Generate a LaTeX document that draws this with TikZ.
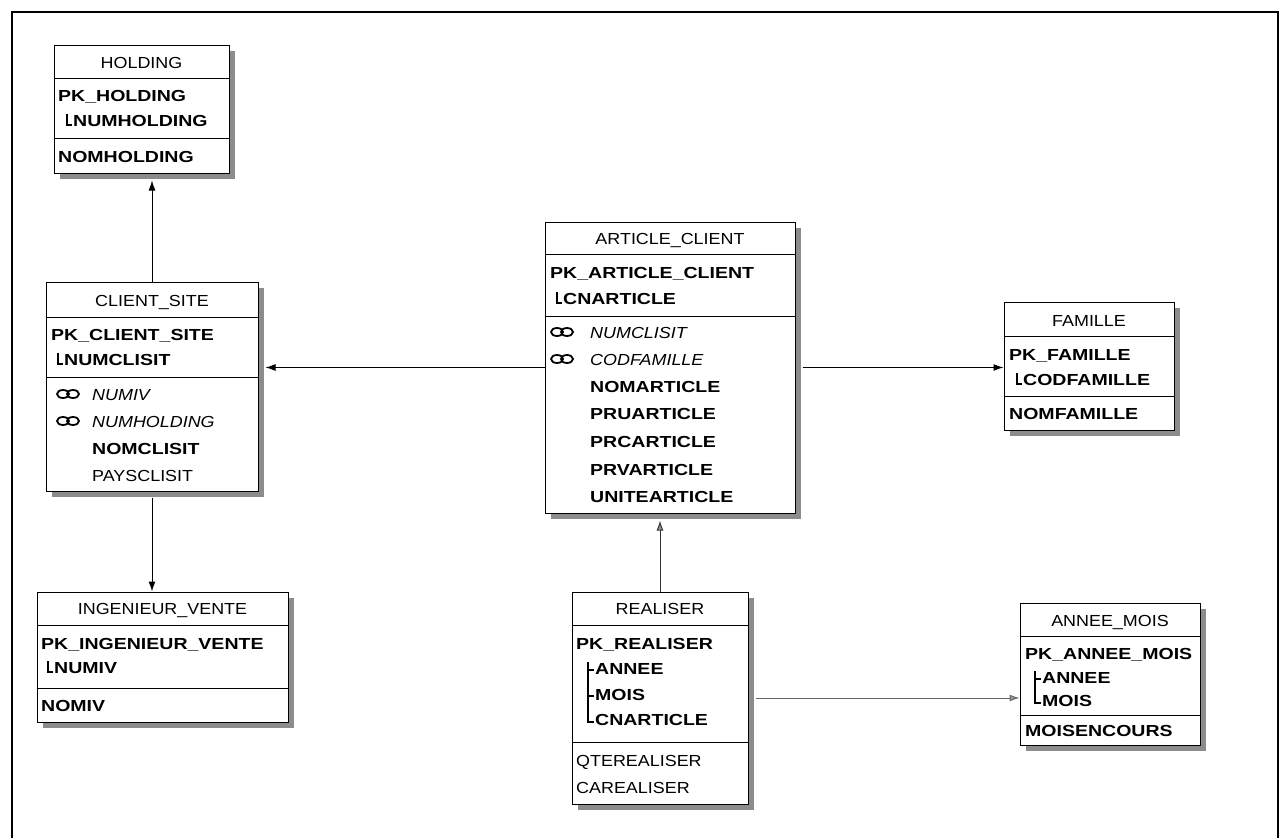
\documentclass[tikz,border=0pt]{standalone}
\usepackage{fontspec}
\setmainfont{Liberation Sans}[FakeStretch=1.12, BoldFeatures={FakeStretch=1.22}]
\usetikzlibrary{arrows.meta, shadows}

\tikzset{
  entity/.style={draw, line width=1pt, fill=white, inner sep=0pt,
    drop shadow={shadow xshift=6pt, shadow yshift=-6pt, fill=black!45, opacity=1}},
  sepline/.style={line width=1pt},
  title/.style={font=\fontsize{16}{19}\selectfont, inner sep=0pt, anchor=base},
  keyrow/.style={font=\fontsize{16}{19}\selectfont\bfseries, inner sep=0pt, anchor=base west},
  fkrow/.style={font=\fontsize{16}{19}\selectfont\itshape, inner sep=0pt, anchor=base west},
  plainrow/.style={font=\fontsize{16}{19}\selectfont, inner sep=0pt, anchor=base west},
  keytree/.style={line width=1.2pt},
  linkicon/.style={line width=1.8pt},
  fk/.style={line width=1pt, -{Latex[length=10pt, width=7pt]}},
  fklight/.style={line width=1pt, draw=black!60, -{Latex[length=10pt, width=7pt, fill=black!40]}},
  frame/.style={line width=1.5pt}
}

\begin{document}
\begin{tikzpicture}[x=1pt, y=-1pt]
\useasboundingbox (0,0) rectangle (1288,838);
\draw[frame] (12,838) -- (12,12) -- (1278,12) -- (1278,838);

% HOLDING
\node[entity, minimum width=175pt, minimum height=128pt] (holding) at (141.5,109) {};
\draw[sepline] (holding.west |- 0,78) -- (holding.east |- 0,78);
\draw[sepline] (holding.west |- 0,138) -- (holding.east |- 0,138);
\node[title] (holding-t) at (141.5,68) {HOLDING};
\node[keyrow] (holding-pk) at (58,101) {PK\_HOLDING};
\draw[keytree] (67,114) |- (72,125);
\node[keyrow] (holding-k1) at (73,126) {NUMHOLDING};
\node[keyrow] (holding-a1) at (58,162) {NOMHOLDING};

% CLIENT_SITE
\node[entity, minimum width=212pt, minimum height=209pt] (client) at (152,386.5) {};
\draw[sepline] (client.west |- 0,317) -- (client.east |- 0,317);
\draw[sepline] (client.west |- 0,377) -- (client.east |- 0,377);
\node[title] (client-t) at (152,306) {CLIENT\_SITE};
\node[keyrow] (client-pk) at (51,340) {PK\_CLIENT\_SITE};
\draw[keytree] (58,353) |- (63,364);
\node[keyrow] (client-k1) at (64,365) {NUMCLISIT};
\draw[linkicon] (63,394) ellipse (6 and 4) (73,394) ellipse (6 and 4);
\node[fkrow] (client-f1) at (92,400) {NUMIV};
\draw[linkicon] (63,421) ellipse (6 and 4) (73,421) ellipse (6 and 4);
\node[fkrow] (client-f2) at (92,427) {NUMHOLDING};
\node[keyrow] (client-a1) at (92,454) {NOMCLISIT};
\node[plainrow] (client-a2) at (92,481) {PAYSCLISIT};

% INGENIEUR_VENTE
\node[entity, minimum width=251pt, minimum height=130pt] (ingenieur) at (162.5,657) {};
\draw[sepline] (ingenieur.west |- 0,625) -- (ingenieur.east |- 0,625);
\draw[sepline] (ingenieur.west |- 0,688) -- (ingenieur.east |- 0,688);
\node[title] (ingenieur-t) at (162.5,614) {INGENIEUR\_VENTE};
\node[keyrow] (ingenieur-pk) at (41,649) {PK\_INGENIEUR\_VENTE};
\draw[keytree] (48,661) |- (53,672);
\node[keyrow] (ingenieur-k1) at (54,673) {NUMIV};
\node[keyrow] (ingenieur-a1) at (41,711) {NOMIV};

% ARTICLE_CLIENT
\node[entity, minimum width=250pt, minimum height=291pt] (article) at (670,367.5) {};
\draw[sepline] (article.west |- 0,254) -- (article.east |- 0,254);
\draw[sepline] (article.west |- 0,316) -- (article.east |- 0,316);
\node[title] (article-t) at (670,244) {ARTICLE\_CLIENT};
\node[keyrow] (article-pk) at (550,278) {PK\_ARTICLE\_CLIENT};
\draw[keytree] (557,292) |- (562,303);
\node[keyrow] (article-k1) at (563,304) {CNARTICLE};
\draw[linkicon] (557,332) ellipse (6 and 4) (567,332) ellipse (6 and 4);
\node[fkrow] (article-f1) at (590,338) {NUMCLISIT};
\draw[linkicon] (557,359) ellipse (6 and 4) (567,359) ellipse (6 and 4);
\node[fkrow] (article-f2) at (590,365) {CODFAMILLE};
\node[keyrow] (article-a1) at (590,392) {NOMARTICLE};
\node[keyrow] (article-a2) at (590,419) {PRUARTICLE};
\node[keyrow] (article-a3) at (590,447) {PRCARTICLE};
\node[keyrow] (article-a4) at (590,475) {PRVARTICLE};
\node[keyrow] (article-a5) at (590,502) {UNITEARTICLE};

% FAMILLE
\node[entity, minimum width=170pt, minimum height=128pt] (famille) at (1089,366) {};
\draw[sepline] (famille.west |- 0,336) -- (famille.east |- 0,336);
\draw[sepline] (famille.west |- 0,396) -- (famille.east |- 0,396);
\node[title] (famille-t) at (1089,326) {FAMILLE};
\node[keyrow] (famille-pk) at (1009,360) {PK\_FAMILLE};
\draw[keytree] (1017,373) |- (1022,384);
\node[keyrow] (famille-k1) at (1023,385) {CODFAMILLE};
\node[keyrow] (famille-a1) at (1009,419) {NOMFAMILLE};

% REALISER
\node[entity, minimum width=176pt, minimum height=212pt] (realiser) at (660,698) {};
\draw[sepline] (realiser.west |- 0,625) -- (realiser.east |- 0,625);
\draw[sepline] (realiser.west |- 0,742) -- (realiser.east |- 0,742);
\node[title] (realiser-t) at (660,614) {REALISER};
\node[keyrow] (realiser-pk) at (576,649) {PK\_REALISER};
\draw[keytree] (588,662) |- (594,722);
\draw[keytree] (588,670) -- (594,670);
\draw[keytree] (588,696) -- (594,696);
\node[keyrow] (realiser-k1) at (595,674) {ANNEE};
\node[keyrow] (realiser-k2) at (595,700) {MOIS};
\node[keyrow] (realiser-k3) at (595,725) {CNARTICLE};
\node[plainrow] (realiser-a1) at (576,766) {QTEREALISER};
\node[plainrow] (realiser-a2) at (576,793) {CAREALISER};

% ANNEE_MOIS
\node[entity, minimum width=180pt, minimum height=142pt] (annee) at (1110,674) {};
\draw[sepline] (annee.west |- 0,636) -- (annee.east |- 0,636);
\draw[sepline] (annee.west |- 0,715) -- (annee.east |- 0,715);
\node[title] (annee-t) at (1110,626) {ANNEE\_MOIS};
\node[keyrow] (annee-pk) at (1025,659) {PK\_ANNEE\_MOIS};
\draw[keytree] (1035,671) |- (1041,703);
\draw[keytree] (1035,679) -- (1041,679);
\node[keyrow] (annee-k1) at (1042,683) {ANNEE};
\node[keyrow] (annee-k2) at (1042,706) {MOIS};
\node[keyrow] (annee-a1) at (1025,736) {MOISENCOURS};

% references
\draw[fk, shorten >=7pt] (client.north) -- (client.north |- holding.south);
\draw[fk, shorten <=6pt] (client.south) -- (client.south |- ingenieur.north);
\draw[fk, shorten >=7pt] (article.west) -- (article.west -| client.east);
\draw[fk, shorten <=7pt] (article.east) -- (article.east -| famille.west);
\draw[fklight, draw=black!80, shorten >=7pt] (realiser.north) -- (realiser.north |- article.south);
\draw[fklight, shorten <=7pt] (realiser.east) -- (realiser.east -| annee.west);
\end{tikzpicture}
\end{document}
